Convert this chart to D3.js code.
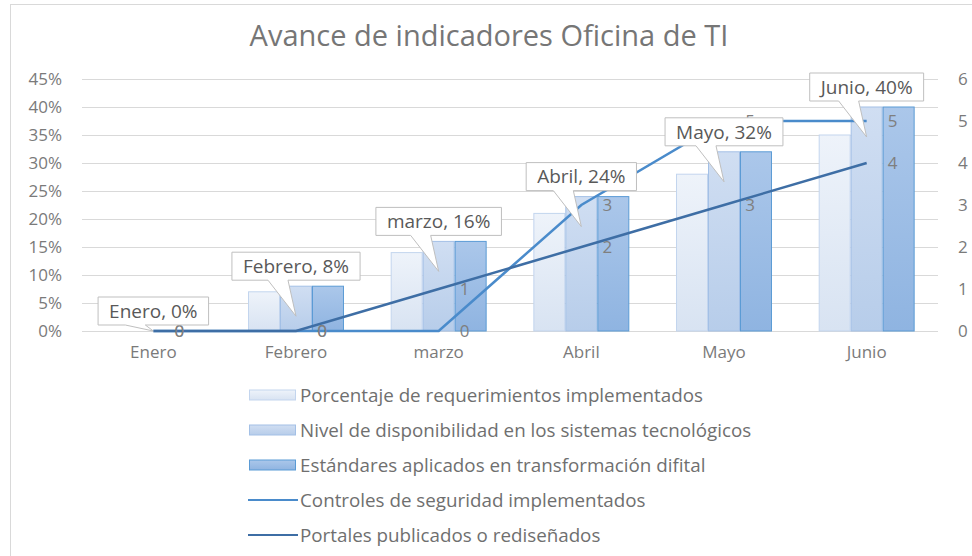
<!DOCTYPE html>
<html lang="es">
<head>
<meta charset="UTF-8">
<title>Avance de indicadores Oficina de TI</title>
<script src="https://d3js.org/d3.v7.min.js"></script>
<style>
  body { margin: 0; background: #fff; }
  text { font-family: "Open Sans", sans-serif; }
  .axis text { fill: #7a7a7a; font-size: 17px; }
  .axis .domain { display: none; }
</style>
</head>
<body>
<div id="chart"></div>
<script>
// data
const categories = ["Enero", "Febrero", "marzo", "Abril", "Mayo", "Junio"];
const requerimientos = [0, 7, 14, 21, 28, 35];
const disponibilidad = [0, 8, 16, 24, 32, 40];
const estandares = [0, 8, 16, 24, 32, 40];
const controles = [0, 0, 0, 3, 5, 5];
const portales = [0, 0, 1, 2, 3, 4];
const pctTicks = [0, 5, 10, 15, 20, 25, 30, 35, 40, 45];
const rightTicks = [0, 1, 2, 3, 4, 5, 6];

const barSeries = [
  { name: "Porcentaje de requerimientos implementados", values: requerimientos, top: "#eef3fa", bottom: "#d8e3f2", stroke: "#c3d5ee" },
  { name: "Nivel de disponibilidad en los sistemas tecnológicos", values: disponibilidad, top: "#d0def2", bottom: "#b7cdea", stroke: "#a3c0e6" },
  { name: "Estándares aplicados en transformación difital", values: estandares, top: "#abc7ea", bottom: "#8fb4e1", stroke: "#5b9bd5" }
];
const lineSeries = [
  { name: "Controles de seguridad implementados", values: controles, color: "#4a8bcb" },
  { name: "Portales publicados o rediseñados", values: portales, color: "#3e6ea5" }
];

const width = 972, height = 556;
const plotLeft = 82, plotRight = 938, plotTop = 79, plotBottom = 331;

const svg = d3.select("#chart").append("svg")
  .attr("width", width)
  .attr("height", height);

// gradients for the bars
const defs = svg.append("defs");
barSeries.forEach((s, i) => {
  const g = defs.append("linearGradient")
    .attr("id", "grad" + i)
    .attr("x1", 0).attr("y1", 0).attr("x2", 0).attr("y2", 1);
  g.append("stop").attr("offset", "0%").attr("stop-color", s.top);
  g.append("stop").attr("offset", "100%").attr("stop-color", s.bottom);
});

// chart border
svg.append("rect")
  .attr("x", 10.5).attr("y", 4.5)
  .attr("width", 1000).attr("height", 600)
  .attr("fill", "none")
  .attr("stroke", "#d9d9d9");

svg.append("text")
  .attr("x", 489).attr("y", 46)
  .attr("text-anchor", "middle")
  .attr("font-size", 29)
  .attr("fill", "#767676")
  .text("Avance de indicadores Oficina de TI");

const x = d3.scaleBand().domain(categories).range([plotLeft, plotRight]).padding(0);
const xSub = d3.scaleBand().domain(d3.range(barSeries.length))
  .range([0, x.bandwidth()]).paddingInner(0).paddingOuter(0.73);
const y = d3.scaleLinear().domain([0, 45]).range([plotBottom, plotTop]);
const y2 = d3.scaleLinear().domain([0, 6]).range([plotBottom, plotTop]);

// left axis with gridlines
const yAxis = svg.append("g")
  .attr("class", "axis")
  .attr("transform", `translate(${plotLeft},0)`)
  .call(d3.axisLeft(y).tickValues(pctTicks).tickFormat(d => d + "%")
    .tickSize(-(plotRight - plotLeft)).tickPadding(20));
yAxis.selectAll(".tick line").attr("stroke", "#d9d9d9");

svg.append("g")
  .attr("class", "axis")
  .attr("transform", `translate(${plotRight},0)`)
  .call(d3.axisRight(y2).tickValues(rightTicks).tickFormat(d3.format("d"))
    .tickSize(0).tickPadding(20));

svg.append("g")
  .attr("class", "axis")
  .attr("transform", `translate(0,${plotBottom})`)
  .call(d3.axisBottom(x).tickSize(0).tickPadding(15));

// bars
barSeries.forEach((s, i) => {
  svg.append("g").selectAll("rect")
    .data(s.values)
    .join("rect")
    .attr("x", (d, j) => x(categories[j]) + xSub(i) + 0.5)
    .attr("y", d => y(d))
    .attr("width", xSub.bandwidth() - 1)
    .attr("height", d => y(0) - y(d))
    .attr("fill", `url(#grad${i})`)
    .attr("stroke", d => d > 0 ? s.stroke : "none")
    .attr("stroke-width", 1);
});

// lines
const cx = c => x(c) + x.bandwidth() / 2;
lineSeries.forEach(s => {
  const line = d3.line()
    .x((d, j) => cx(categories[j]))
    .y(d => y2(d));
  svg.append("path")
    .datum(s.values)
    .attr("d", line)
    .attr("fill", "none")
    .attr("stroke", s.color)
    .attr("stroke-width", 2.5);
});

// line value labels
lineSeries.forEach(s => {
  svg.append("g").selectAll("text")
    .data(s.values)
    .join("text")
    .attr("x", (d, j) => cx(categories[j]) + 26)
    .attr("y", d => y2(d))
    .attr("dy", "0.36em")
    .attr("text-anchor", "middle")
    .attr("font-size", 17)
    .attr("fill", "#7f7f7f")
    .text(d => d);
});

// callout labels on the middle bars
const callouts = svg.append("g");
disponibilidad.forEach((v, j) => {
  const c = cx(categories[j]);
  const g = callouts.append("g");
  const boxBottom = y(v) - 6;
  const h = 28;
  const path = g.append("path");
  const t = g.append("text")
    .attr("x", c)
    .attr("y", boxBottom - h / 2)
    .attr("dy", "0.36em")
    .attr("text-anchor", "middle")
    .attr("font-size", 19)
    .attr("fill", "#595959")
    .text(`${categories[j]}, ${v}%`);
  const w = t.node().getComputedTextLength() + 22;
  const x0 = c - w / 2, x1 = c + w / 2, y0 = boxBottom - h;
  const tipY = Math.min(y(v) + 30, y(0));
  const p = d3.path();
  p.moveTo(x0, y0);
  p.lineTo(x1, y0);
  p.lineTo(x1, boxBottom);
  p.lineTo(c - 8, boxBottom);
  p.lineTo(c, tipY);
  p.lineTo(c - 28, boxBottom);
  p.lineTo(x0, boxBottom);
  p.closePath();
  path.attr("d", p.toString())
    .attr("fill", "#fff")
    .attr("stroke", "#bfbfbf")
    .attr("stroke-width", 1);
});

// legend
const legend = svg.append("g");
const rowY = i => 395 + i * 35;
barSeries.forEach((s, i) => {
  legend.append("rect")
    .attr("x", 249.5).attr("y", rowY(i) - 5)
    .attr("width", 46).attr("height", 10)
    .attr("fill", `url(#grad${i})`)
    .attr("stroke", s.stroke);
});
lineSeries.forEach((s, i) => {
  legend.append("line")
    .attr("x1", 248).attr("x2", 298)
    .attr("y1", rowY(i + 3)).attr("y2", rowY(i + 3))
    .attr("stroke", s.color)
    .attr("stroke-width", 2);
});
legend.selectAll("text")
  .data(barSeries.concat(lineSeries))
  .join("text")
  .attr("x", 300)
  .attr("y", (d, i) => rowY(i))
  .attr("dy", "0.36em")
  .attr("font-size", 18.8)
  .attr("fill", "#6f6f6f")
  .text(d => d.name);
</script>
</body>
</html>
